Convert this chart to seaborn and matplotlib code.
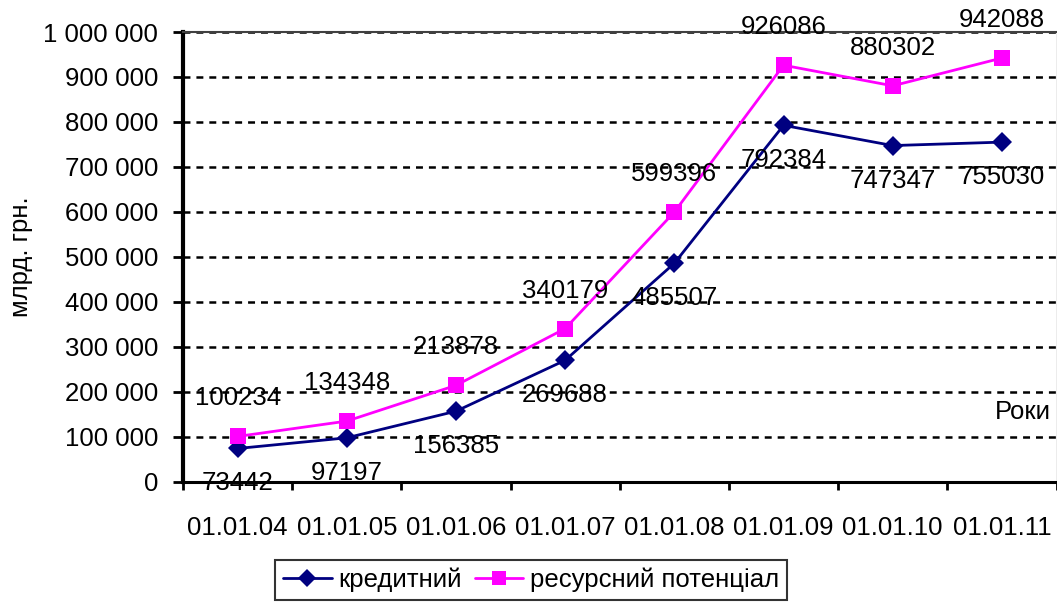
import matplotlib
matplotlib.use("Agg")
import matplotlib.pyplot as plt
from matplotlib.ticker import FuncFormatter, FixedLocator
from matplotlib.lines import Line2D
import seaborn as sns
import pandas as pd

# Dates of observation and the two indicators (млрд. грн.)
dates = ["01.01.04", "01.01.05", "01.01.06", "01.01.07",
         "01.01.08", "01.01.09", "01.01.10", "01.01.11"]
kredytnyi = [73442, 97197, 156385, 269688, 485507, 792384, 747347, 755030]
resursnyi = [100234, 134348, 213878, 340179, 599396, 926086, 880302, 942088]
series_names = ["кредитний", "ресурсний потенціал"]
y_ticks = [0, 100000, 200000, 300000, 400000, 500000,
           600000, 700000, 800000, 900000, 1000000]

sns.set_theme(style="white")
plt.rcParams["font.family"] = ["Liberation Sans", "DejaVu Sans"]
plt.rcParams["lines.scale_dashes"] = False
plt.rcParams["text.color"] = "black"
plt.rcParams["axes.labelcolor"] = "black"
plt.rcParams["xtick.color"] = "black"
plt.rcParams["ytick.color"] = "black"

df = pd.DataFrame({
    "pos": list(range(len(dates))) * 2,
    "value": kredytnyi + resursnyi,
    "series": [series_names[0]] * len(dates) + [series_names[1]] * len(dates),
})

W, H = 1057, 605
AX_L, AX_R, AX_T, AX_B = 183, 1056.5, 32, 481.5
fig = plt.figure(figsize=(W / 100, H / 100), dpi=100)
ax = fig.add_axes([AX_L / W, 1 - AX_B / H, (AX_R - AX_L) / W, (AX_B - AX_T) / H])

colors = {series_names[0]: "#000080", series_names[1]: "#FF00FF"}
sns.lineplot(data=df, x="pos", y="value", hue="series", style="series",
             palette=colors, markers={series_names[0]: "D", series_names[1]: "s"},
             dashes=False, ax=ax, legend=False, linewidth=2,
             markeredgewidth=0)
for line, ms in zip(ax.lines, [10, 11.5]):
    line.set_markersize(ms)

# Value labels: credit below the points, resource potential above
FS = 18.5
for i, v in enumerate(kredytnyi):
    ax.annotate(str(v), (i, v), xytext=(0, -35), textcoords="offset pixels",
                ha="center", va="center", fontsize=FS, color="black")
for i, v in enumerate(resursnyi):
    ax.annotate(str(v), (i, v), xytext=(0, 38), textcoords="offset pixels",
                ha="center", va="center", fontsize=FS, color="black",
                annotation_clip=False)

ax.set_xlim(-0.5, len(dates) - 0.5)
ax.set_ylim(0, 1000000)

# Category labels between boundary tick marks
ax.set_xticks(range(len(dates)))
ax.set_xticklabels(dates, fontsize=FS)
ax.xaxis.set_minor_locator(FixedLocator([k - 0.5 for k in range(len(dates) + 1)]))
ax.tick_params(axis="x", which="major", length=0, pad=25)
ax.tick_params(axis="x", which="minor", length=6, width=2, color="black",
               direction="out", bottom=True)

ax.yaxis.set_major_locator(FixedLocator(y_ticks))
ax.yaxis.set_major_formatter(FuncFormatter(lambda v, p: f"{int(v):,}".replace(",", " ")))
ax.tick_params(axis="y", length=7, width=2, color="black", direction="out",
               left=True, labelsize=FS, pad=11)

ax.grid(axis="y", color="black", linestyle=(0, (5, 4.3)), linewidth=1.8)
ax.set_axisbelow(True)

ax.spines["left"].set_color("black")
ax.spines["left"].set_linewidth(3)
ax.spines["bottom"].set_color("black")
ax.spines["bottom"].set_linewidth(2.2)
ax.spines["top"].set_color("#404040")
ax.spines["top"].set_linewidth(1.5)
ax.spines["right"].set_color("#A0A0A0")
ax.spines["right"].set_linewidth(1)

ax.set_xlabel("")
ax.set_ylabel("млрд. грн.", fontsize=FS)
ax.yaxis.set_label_coords((33 - AX_L) / (AX_R - AX_L), 0.5)

ax.text(0.993, 155000, "Роки", transform=ax.get_yaxis_transform(),
        ha="right", va="center", fontsize=FS)

# Legend in a plain box below the axes
handles = [
    Line2D([], [], color="#000080", marker="D", markersize=9, linewidth=2, markeredgewidth=0),
    Line2D([], [], color="#FF00FF", marker="s", markersize=10.5, linewidth=2, markeredgewidth=0),
]
leg = fig.legend(handles, series_names, loc="center", bbox_to_anchor=(531 / W, 1 - 580 / H),
                 ncol=2, frameon=True, fancybox=False, fontsize=FS, handlelength=1.9,
                 handletextpad=0.25, columnspacing=0.5, borderpad=0.3,
                 borderaxespad=0)
leg.get_frame().set_edgecolor("black")
leg.get_frame().set_linewidth(1.5)

fig.savefig("out.png", dpi=100, facecolor="white")
